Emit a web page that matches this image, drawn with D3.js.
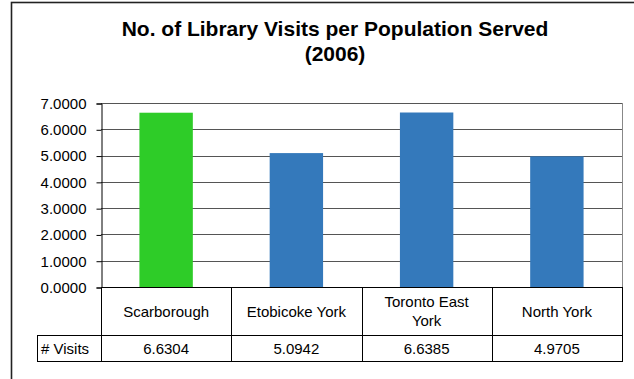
<!DOCTYPE html>
<html>
<head>
<meta charset="utf-8">
<script src="https://cdn.jsdelivr.net/npm/d3@7"></script>
<style>
  html, body { margin: 0; padding: 0; background: #fff; }
  svg { display: block; font-family: Arial, "Liberation Sans", sans-serif; }
</style>
</head>
<body>
<svg id="chart" width="634" height="379"></svg>
<script>
// Library visits per population served, by district (2006)
const categories = ["Scarborough", "Etobicoke York", "Toronto East York", "North York"];
const categoryLines = [["Scarborough"], ["Etobicoke York"], ["Toronto East", "York"], ["North York"]];
const visits = [6.6304, 5.0942, 6.6385, 4.9705];
const barColors = ["#2ecc28", "#3479bb", "#3479bb", "#3479bb"];
const yTicks = [0, 1, 2, 3, 4, 5, 6, 7];
const rowLabel = "# Visits";
const titleLines = ["No. of Library Visits per Population Served", "(2006)"];

const svg = d3.select("#chart");
const W = 634, H = 379;

svg.append("rect").attr("width", W).attr("height", H).attr("fill", "#fff");

// outer chart frame (runs off the right and bottom edges)
svg.append("rect")
  .attr("x", 11.5).attr("y", 2.5)
  .attr("width", 700).attr("height", 500)
  .attr("fill", "none").attr("stroke", "#222").attr("stroke-width", 1.6);

// title
svg.append("g").selectAll("text").data(titleLines).join("text")
  .attr("x", 335).attr("y", (d, i) => 36 + i * 25)
  .attr("text-anchor", "middle")
  .attr("font-size", 21).attr("font-weight", "bold").attr("fill", "#000")
  .text(d => d);

// plot geometry
const plot = { left: 101, right: 622, top: 103, bottom: 287 };
const table = { labelLeft: 37, catBottom: 335, valBottom: 361 };

const x = d3.scaleBand().domain(categories).range([plot.left, plot.right]).padding(0);
const y = d3.scaleLinear().domain([0, 7]).range([plot.bottom, plot.top]);

// horizontal gridlines
svg.append("g").selectAll("line").data(yTicks.filter(t => t > 0)).join("line")
  .attr("x1", plot.left).attr("x2", plot.right)
  .attr("y1", d => Math.round(y(d)) + 0.5).attr("y2", d => Math.round(y(d)) + 0.5)
  .attr("stroke", "#555").attr("stroke-width", 1);

// plot area right border
svg.append("line")
  .attr("x1", plot.right + 0.5).attr("x2", plot.right + 0.5)
  .attr("y1", plot.top).attr("y2", plot.bottom)
  .attr("stroke", "#888");

// bars
const barW = x.bandwidth() * 0.41;
svg.append("g").selectAll("rect").data(visits).join("rect")
  .attr("x", (d, i) => x(categories[i]) + (x.bandwidth() - barW) / 2)
  .attr("y", d => y(d))
  .attr("width", barW)
  .attr("height", d => y(0) - y(d))
  .attr("fill", (d, i) => barColors[i]);

// y axis
const yAxis = d3.axisLeft(y).tickValues(yTicks).tickFormat(d3.format(".4f")).tickSize(5).tickPadding(10);
const ag = svg.append("g").attr("transform", `translate(${plot.left + 0.5},0.5)`).call(yAxis);
ag.select(".domain").attr("stroke", "#000");
ag.selectAll(".tick line").attr("stroke", "#000");
ag.selectAll(".tick text").attr("font-size", 15).attr("fill", "#000")
  .attr("font-family", "Arial, 'Liberation Sans', sans-serif");

// data table under the axis
const tg = svg.append("g").attr("stroke", "#000").attr("stroke-width", 1);
// zero line / table top
tg.append("line").attr("x1", plot.left).attr("x2", plot.right)
  .attr("y1", plot.bottom + 0.5).attr("y2", plot.bottom + 0.5);
// row separators
[table.catBottom, table.valBottom].forEach(yy => {
  tg.append("line").attr("x1", table.labelLeft).attr("x2", plot.right + 1)
    .attr("y1", yy + 0.5).attr("y2", yy + 0.5);
});
// column separators
const colEdges = categories.map(c => x(c)).concat([plot.right]);
colEdges.forEach(xx => {
  tg.append("line").attr("x1", Math.round(xx) + 0.5).attr("x2", Math.round(xx) + 0.5)
    .attr("y1", plot.bottom).attr("y2", table.valBottom + 1);
});
tg.append("line").attr("x1", table.labelLeft + 0.5).attr("x2", table.labelLeft + 0.5)
  .attr("y1", table.catBottom).attr("y2", table.valBottom + 1);

// category headers
const catMid = (plot.bottom + table.catBottom) / 2;
const hg = svg.append("g").attr("font-size", 15).attr("fill", "#000").attr("text-anchor", "middle");
categoryLines.forEach((lines, i) => {
  const cx = x(categories[i]) + x.bandwidth() / 2;
  const lh = 19;
  const y0 = catMid + 5.5 - (lines.length - 1) * lh / 2;
  lines.forEach((t, j) => {
    hg.append("text").attr("x", cx).attr("y", y0 + j * lh).text(t);
  });
});

// values row
const valMid = (table.catBottom + table.valBottom) / 2;
svg.append("g").attr("font-size", 15).attr("fill", "#000").attr("text-anchor", "middle")
  .selectAll("text").data(visits).join("text")
  .attr("x", (d, i) => x(categories[i]) + x.bandwidth() / 2)
  .attr("y", valMid + 6)
  .text(d => d3.format(".4f")(d));

svg.append("text").attr("x", table.labelLeft + 4).attr("y", valMid + 6)
  .attr("font-size", 15).attr("fill", "#000").text(rowLabel);
</script>
</body>
</html>
